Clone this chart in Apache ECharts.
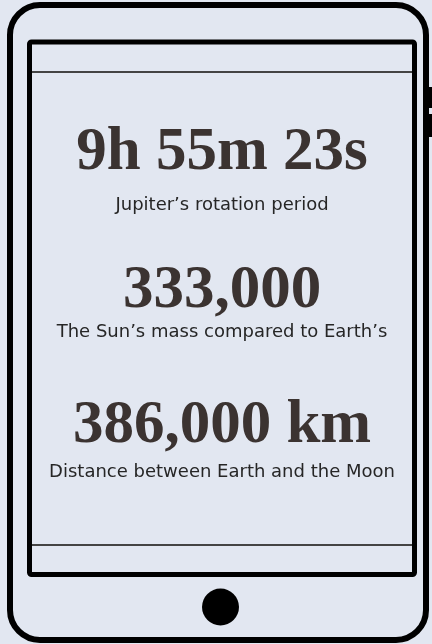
<!DOCTYPE html>
<html>
<head>
<meta charset="utf-8">
<script src="https://cdn.jsdelivr.net/npm/echarts@6/dist/echarts.min.js"></script>
<style>
  html, body { margin: 0; padding: 0; background: #e2e7f1; }
  #chart { width: 432px; height: 644px; }
</style>
</head>
<body>
<div id="chart"></div>
<script>
// stats shown on the tablet screen
const statValues = ['9h 55m 23s', '333,000', '386,000 km']
const statLabels = [
    'Jupiter\u2019s rotation period',
    'The Sun\u2019s mass compared to Earth\u2019s',
    'Distance between Earth and the Moon'
]

const bg = '#e2e7f1'
const ink = '#3b3331'
const cx = 222

const chart = echarts.init(document.getElementById('chart'), null, { renderer: 'canvas' })

const valueY = [153, 291, 426]
const labelY = [205, 332, 472]

const texts = []
statValues.forEach((v, i) => {
    texts.push({
        type: 'text',
        x: cx, y: valueY[i],
        style: {
            text: v,
            fill: ink,
            font: 'bold 61px "Liberation Serif", serif',
            align: 'center',
            verticalAlign: 'middle'
        }
    })
    texts.push({
        type: 'text',
        x: cx, y: labelY[i],
        style: {
            text: statLabels[i],
            fill: '#262626',
            font: '18px "DejaVu Sans", sans-serif',
            align: 'center',
            verticalAlign: 'middle'
        }
    })
})

chart.setOption({
    backgroundColor: bg,
    animation: false,
    graphic: [
        // side buttons
        { type: 'rect', shape: { x: 421, y: 87, width: 20, height: 21, r: 3 }, style: { fill: '#000' } },
        { type: 'rect', shape: { x: 421, y: 114, width: 20, height: 23, r: 3 }, style: { fill: '#000' } },
        // tablet body
        { type: 'rect', shape: { x: 10, y: 5, width: 416, height: 635, r: 30 },
          style: { fill: bg, stroke: '#000', lineWidth: 6 } },
        // screen
        { type: 'rect', shape: { x: 29.5, y: 42, width: 385, height: 532.5, r: 2 },
          style: { fill: bg, stroke: '#000', lineWidth: 5 } },
        // screen rules
        { type: 'line', shape: { x1: 32, y1: 72, x2: 412, y2: 72 }, style: { stroke: '#444', lineWidth: 2 } },
        { type: 'line', shape: { x1: 32, y1: 545, x2: 412, y2: 545 }, style: { stroke: '#444', lineWidth: 2 } },
        // home button
        { type: 'circle', shape: { cx: 220.5, cy: 607, r: 18.5 }, style: { fill: '#000' } },
        ...texts
    ]
})
</script>
</body>
</html>
